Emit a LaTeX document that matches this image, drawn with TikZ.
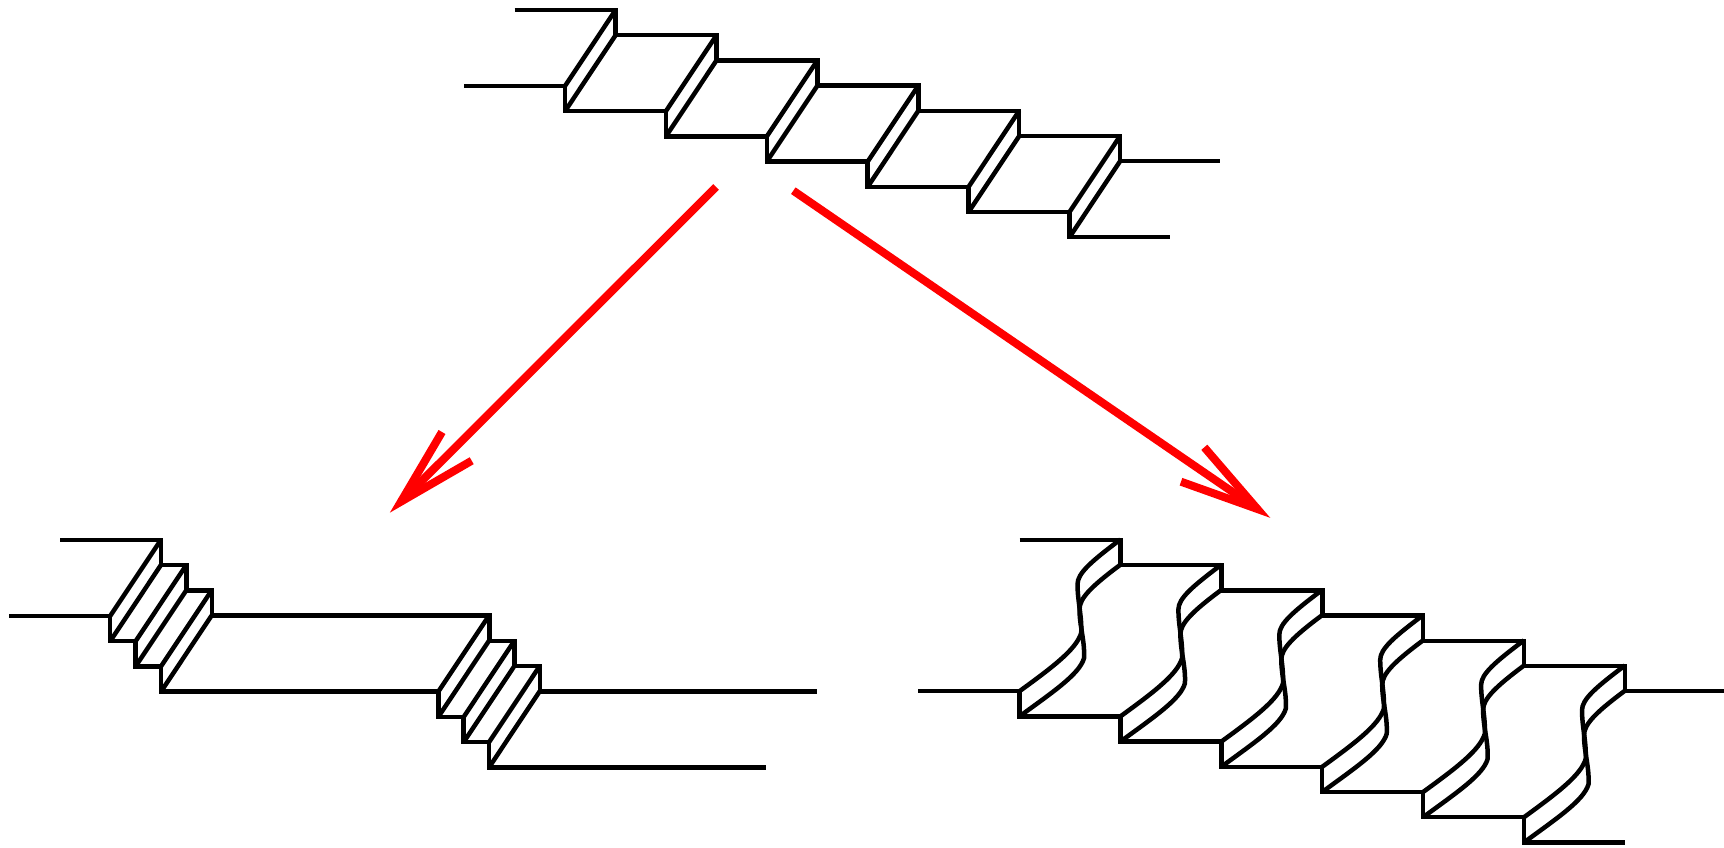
\documentclass[tikz,border=0pt]{standalone}
\begin{document}
\begin{tikzpicture}[x=1pt,y=-1pt,
  ink/.style={draw=black,line width=4.5pt,line join=miter,miter limit=10},
  redarrow/.style={draw=red,line width=8pt,line join=miter,miter limit=10},
  flatdiag/.pic={
    \draw[ink] (0,0) -- (50.6,-76);
    \draw[ink] (0,25.2) -- (50.6,-50.8);
  },
  wavydiag/.pic={
    \draw[ink] (0,0) .. controls (33,-24) and (57,-42) .. (61.7,-58.3)
      .. controls (62.5,-75) and (58,-90) .. (58,-107)
      .. controls (58,-118) and (72,-130) .. (100.9,-151.7);
    \draw[ink] (0,25.2) .. controls (33,1) and (60,-17) .. (64.5,-33)
      .. controls (65.5,-50) and (60,-65) .. (60,-82)
      .. controls (60,-93) and (72,-105) .. (100.9,-126.5);
  }]
\useasboundingbox (0,0) rectangle (1724,848);

% top staircase
\draw[ink] (514.5,10) -- (615.6,10)
  foreach \k in {1,...,5} { -- ++(0,25.2) -- ++(100.9,0) }
  -- ++(0,25.2) -- ++(99.5,0);
\draw[ink] (464,86) -- (565,86)
  foreach \k in {1,...,5} { -- ++(0,25.2) -- ++(100.9,0) }
  -- ++(0,25.2) -- ++(100,0);
\foreach \k in {0,...,5}
  \pic at ({565+100.9*\k},{86+25.2*\k}) {flatdiag};

% bottom-left staircase
\draw[ink] (60,540) -- (161,540)
  -- ++(0,25.2) -- ++(25.4,0) -- ++(0,25.2) -- ++(25.4,0) -- ++(0,25.3)
  -- (489.3,615.7)
  -- ++(0,25.2) -- ++(25.4,0) -- ++(0,25.2) -- ++(25.4,0) -- ++(0,25.3)
  -- ++(276.5,0);
\draw[ink] (9,616) -- (110,616)
  -- ++(0,25.2) -- ++(25.4,0) -- ++(0,25.2) -- ++(25.4,0) -- ++(0,25.3)
  -- (438.3,691.7)
  -- ++(0,25.2) -- ++(25.4,0) -- ++(0,25.2) -- ++(25.4,0) -- ++(0,25.3)
  -- ++(276.5,0);
\foreach \k in {0,1,2} {
  \pic at ({110.2+25.4*\k},{616+25.2*\k}) {flatdiag};
  \pic at ({438.3+25.4*\k},{691.7+25.2*\k}) {flatdiag};
}

% bottom-right staircase
\draw[ink] (1019.5,540) -- (1120.5,540)
  foreach \k in {1,...,5} { -- ++(0,25.2) -- ++(100.9,0) }
  -- ++(0,25.2) -- ++(100,0);
\draw[ink] (918,691.2) -- (1019.5,691.2)
  foreach \k in {1,...,5} { -- ++(0,25.2) -- ++(100.9,0) }
  -- ++(0,25.2) -- ++(101.2,0);
\foreach \k in {0,...,5}
  \pic at ({1019.5+100.9*\k},{691.2+25.2*\k}) {wavydiag};

% red arrows
\coordinate (tipa) at (401,501.6);
\coordinate (tipb) at (1257.4,509);
\draw[redarrow] (716,187) -- (tipa);
\draw[redarrow] (442,432) -- (tipa) -- (471.7,460.7);
\draw[redarrow] (793.3,190.7) -- (tipb);
\draw[redarrow] (1204.3,447.3) -- (tipb) -- (1181,481.7);
\end{tikzpicture}
\end{document}
